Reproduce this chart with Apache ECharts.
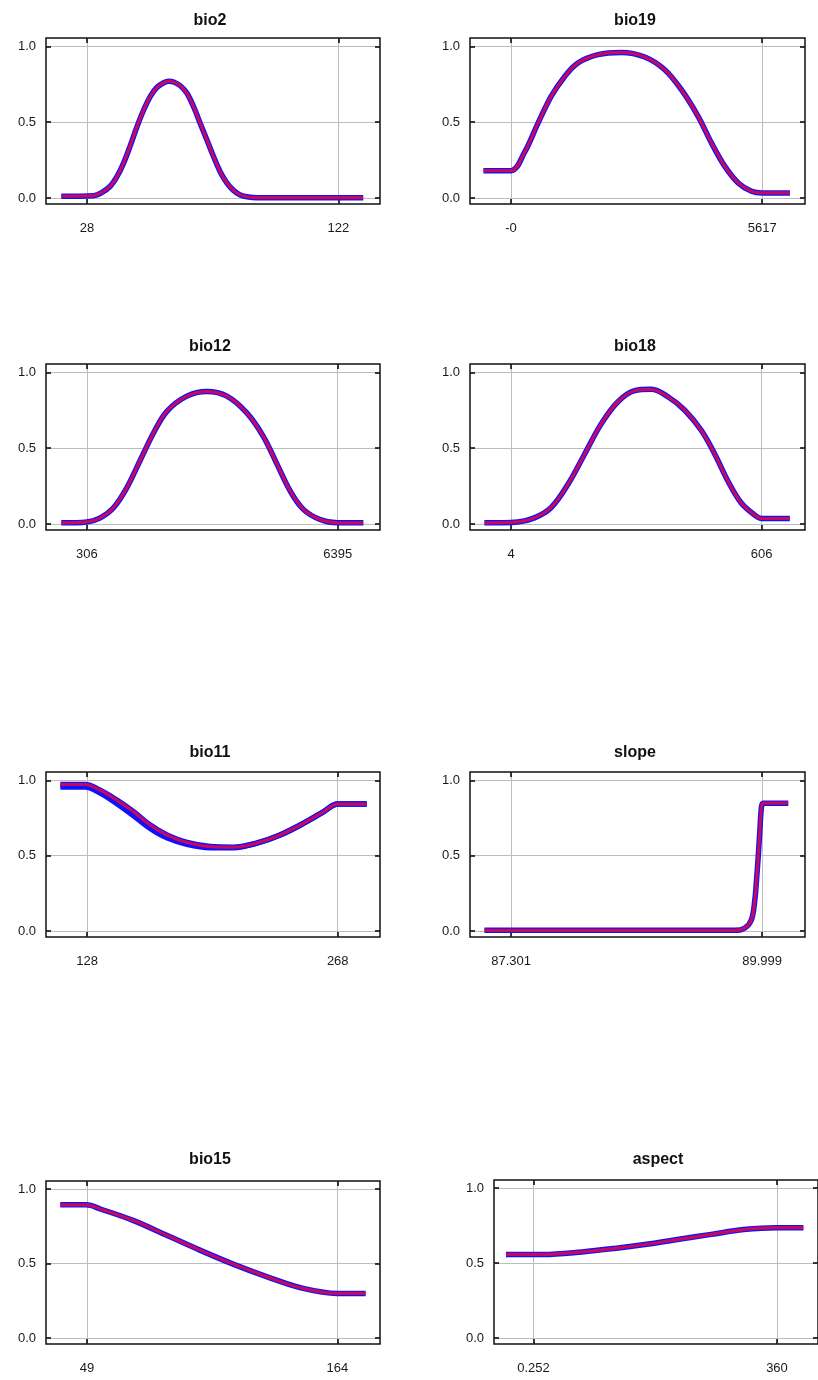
<!DOCTYPE html>
<html>
<head>
<meta charset="utf-8">
<script src="https://cdn.jsdelivr.net/npm/echarts@6/dist/echarts.min.js"></script>
<style>
html,body{margin:0;padding:0;background:#fff;}
#chart{width:818px;height:1380px;}
</style>
</head>
<body>
<div id="chart"></div>
<script>
// ---------- data ----------
const panelNames = ['bio2', 'bio19', 'bio12', 'bio18', 'bio11', 'slope', 'bio15', 'aspect'];

const bio2X = [18.4, 30.5, 33.5, 36.7, 39.2, 41.7, 44.2, 46.7, 49.2, 51.7, 54.2, 56.7, 58.5, 60.4, 62.9, 65.4, 67.9, 70.4, 72.9, 75.4, 77.9, 80.3, 82.8, 85.3, 88.4, 91.5, 110, 131.3];
const bio2Y = [0.011, 0.015, 0.035, 0.077, 0.14, 0.23, 0.345, 0.47, 0.58, 0.67, 0.73, 0.76, 0.77, 0.765, 0.74, 0.69, 0.6, 0.49, 0.38, 0.27, 0.17, 0.10, 0.05, 0.02, 0.006, 0.002, 0.002, 0.002];

const bio19X = [-618, 0, 300, 598, 896, 1196, 1494, 1943, 2465, 2989, 3437, 3809, 4183, 4481, 4781, 5080, 5378, 5617, 6238];
const bio19Y = [0.18, 0.18, 0.30, 0.49, 0.67, 0.80, 0.89, 0.945, 0.96, 0.93, 0.846, 0.714, 0.538, 0.363, 0.208, 0.099, 0.044, 0.033, 0.033];

const bio12X = [-317, 306, 629, 951, 1276, 1599, 1922, 2247, 2732, 3217, 3702, 4187, 4590, 4914, 5237, 5560, 5966, 6395, 7016];
const bio12Y = [0.007, 0.013, 0.04, 0.107, 0.24, 0.42, 0.60, 0.743, 0.843, 0.873, 0.843, 0.732, 0.576, 0.398, 0.219, 0.096, 0.029, 0.007, 0.007];

const bio18X = [-60, 20, 60, 100, 140.5, 180.7, 220.7, 261, 301, 341, 381, 421.5, 461.5, 493.8, 525.8, 557.8, 590, 606, 674];
const bio18Y = [0.007, 0.013, 0.04, 0.107, 0.26, 0.46, 0.66, 0.806, 0.879, 0.888, 0.839, 0.75, 0.616, 0.46, 0.28, 0.136, 0.058, 0.036, 0.036];

const bio11X = [113.1, 127, 135.4, 144.7, 154, 163.3, 172.6, 183.8, 196.8, 209.8, 222.8, 235.8, 248.8, 260, 268, 284.2];
const bio11Y = [0.972, 0.972, 0.934, 0.868, 0.791, 0.703, 0.637, 0.587, 0.56, 0.556, 0.583, 0.637, 0.714, 0.791, 0.842, 0.842];
const bio11BlueLowY = [0.955, 0.955, 0.915, 0.845, 0.765, 0.68, 0.618, 0.575, 0.553, 0.553, 0.583, 0.637, 0.714, 0.791, 0.842, 0.842];

const slopeX = [87.015, 89.705, 89.813, 89.884, 89.92, 89.938, 89.956, 89.974, 89.991, 90.009, 90.279];
const slopeY = [0.004, 0.004, 0.02, 0.075, 0.206, 0.337, 0.49, 0.666, 0.82, 0.848, 0.848];

const bio15X = [36.7, 48.7, 55.1, 70.4, 85.8, 101.1, 116.4, 131.8, 147.1, 164, 177];
const bio15Y = [0.895, 0.895, 0.867, 0.789, 0.689, 0.589, 0.495, 0.411, 0.338, 0.3, 0.3];

const aspectX = [-40.4, 14.6, 71.9, 119.6, 167.4, 215.2, 262.9, 310.7, 358.5, 399];
const aspectY = [0.558, 0.558, 0.575, 0.598, 0.626, 0.659, 0.692, 0.724, 0.737, 0.737];

const xTickValues = [[28, 122], [0, 5617], [306, 6395], [4, 606], [128, 268], [87.301, 89.999], [49, 164], [0.252, 360]];
const xTickLabels = [['28', '122'], ['-0', '5617'], ['306', '6395'], ['4', '606'], ['128', '268'], ['87.301', '89.999'], ['49', '164'], ['0.252', '360']];
const yTickValues = [0, 0.5, 1];
const yTickLabels = ['0.0', '0.5', '1.0'];

// ---------- layout ----------
const grids = [
  {left: 46, top: 38, width: 334, height: 166},
  {left: 470, top: 38, width: 335, height: 166},
  {left: 46, top: 364, width: 334, height: 166},
  {left: 470, top: 364, width: 335, height: 166},
  {left: 46, top: 772, width: 334, height: 165},
  {left: 470, top: 772, width: 335, height: 165},
  {left: 46, top: 1181, width: 334, height: 163},
  {left: 494, top: 1180, width: 334, height: 164}
];
const xRanges = [[12.68, 137.58], [-918.6, 6573.7], [-688.7, 7421], [-94.7, 710.5], [105.1, 291.6], [86.86, 90.459], [30.14, 183.6], [-58.08, 420.6]];
const yRange = [-0.04, 1.055];
const titlePos = [[210, 21], [635, 21], [210, 347], [635, 347], [210, 753], [635, 753], [210, 1160], [658, 1160]];

const redData = [
  [bio2X, bio2Y], [bio19X, bio19Y], [bio12X, bio12Y], [bio18X, bio18Y],
  [bio11X, bio11Y], [slopeX, slopeY], [bio15X, bio15Y], [aspectX, aspectY]
];
const blueData = [
  [[bio2X, bio2Y]], [[bio19X, bio19Y]], [[bio12X, bio12Y]], [[bio18X, bio18Y]],
  [[bio11X, bio11Y], [bio11X, bio11BlueLowY]], [[slopeX, slopeY]], [[bio15X, bio15Y]], [[aspectX, aspectY]]
];

function pairs(xs, ys) { return xs.map((x, i) => [x, ys[i]]); }

const FONT = '"Liberation Sans", Arial, sans-serif';
const gridOpt = [], xAxes = [], yAxes = [], series = [], graphics = [];
const tickStyle = {color: '#000', width: 1.5};
const gridLineStyle = {color: '#bdbdbd', width: 1};

panelNames.forEach((name, i) => {
  gridOpt.push(Object.assign({show: true, borderColor: '#111', borderWidth: 1.5, containLabel: false}, grids[i]));
  const xt = xTickValues[i], xl = xTickLabels[i];
  xAxes[i] = {
    type: 'value', gridIndex: i, position: 'bottom', min: xRanges[i][0], max: xRanges[i][1],
    axisLine: {show: false, onZero: false},
    axisTick: {show: true, inside: true, length: 5, customValues: xt, lineStyle: tickStyle},
    axisLabel: {show: true, customValues: xt, margin: 18, fontSize: 13, color: '#1a1a1a', fontFamily: FONT,
      formatter: v => { const k = xt.indexOf(v); return k >= 0 ? xl[k] : ''; }},
    splitLine: {show: true, lineStyle: gridLineStyle}
  };
  xAxes[i + 8] = {
    type: 'value', gridIndex: i, position: 'top', min: xRanges[i][0], max: xRanges[i][1],
    axisLine: {show: false, onZero: false}, axisLabel: {show: false}, splitLine: {show: false},
    axisTick: {show: true, inside: true, length: 5, customValues: xt, lineStyle: tickStyle}
  };
  yAxes[i] = {
    type: 'value', gridIndex: i, position: 'left', min: yRange[0], max: yRange[1],
    axisLine: {show: false, onZero: false},
    axisTick: {show: true, inside: true, length: 5, customValues: yTickValues, lineStyle: tickStyle},
    axisLabel: {show: true, customValues: yTickValues, margin: 10, fontSize: 13, color: '#1a1a1a', fontFamily: FONT,
      formatter: v => { const k = yTickValues.indexOf(v); return k >= 0 ? yTickLabels[k] : ''; }},
    splitLine: {show: true, lineStyle: gridLineStyle}
  };
  yAxes[i + 8] = {
    type: 'value', gridIndex: i, position: 'right', min: yRange[0], max: yRange[1],
    axisLine: {show: false, onZero: false}, axisLabel: {show: false}, splitLine: {show: false},
    axisTick: {show: true, inside: true, length: 5, customValues: yTickValues, lineStyle: tickStyle}
  };
  blueData[i].forEach((b, j) => {
    series.push({
      type: 'line', name: name + '_blue' + j, xAxisIndex: i, yAxisIndex: i,
      data: pairs(b[0], b[1]), showSymbol: false, smooth: 0.35,
      lineStyle: {color: '#1010ff', width: 5.5}, silent: true, animation: false, z: 3
    });
  });
  series.push({
    type: 'line', name: name + '_red', xAxisIndex: i, yAxisIndex: i,
    data: pairs(redData[i][0], redData[i][1]), showSymbol: false, smooth: 0.35,
    lineStyle: {color: 'rgba(210,10,80,0.92)', width: 3.2}, silent: true, animation: false, z: 4
  });
  graphics.push({
    type: 'text', x: titlePos[i][0], y: titlePos[i][1],
    style: {text: name, fontSize: 16, fontWeight: 'bold', fontFamily: FONT, fill: '#111', align: 'center', verticalAlign: 'middle'}
  });
});

const chart = echarts.init(document.getElementById('chart'), null, {renderer: 'canvas'});
chart.setOption({
  animation: false,
  backgroundColor: '#fff',
  grid: gridOpt,
  xAxis: xAxes,
  yAxis: yAxes,
  series: series,
  graphic: graphics
});
</script>
</body>
</html>
